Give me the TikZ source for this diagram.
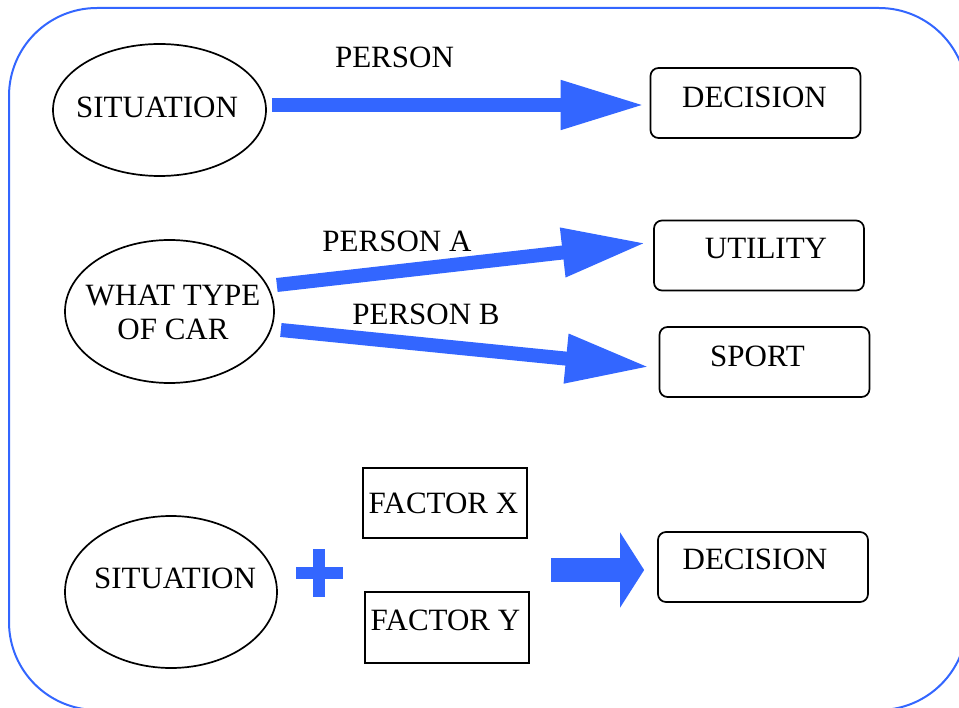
\documentclass[tikz,border=0pt]{standalone}
\usepackage{fontspec}
\setmainfont{Liberation Serif}
\usetikzlibrary{shapes.geometric,arrows.meta}
\definecolor{arrowblue}{RGB}{51,102,255}
\tikzset{
  txt/.style={font=\fontsize{31}{34}\selectfont, inner sep=0pt, text height=20.5pt, text depth=0pt},
  oval/.style={draw, ellipse, line width=1.7pt, inner sep=0pt},
  rbox/.style={draw, rounded corners=8pt, line width=1.7pt, inner sep=0pt,
               minimum width=210pt, minimum height=70pt},
  sbox/.style={draw, line width=1.7pt, inner sep=0pt, minimum width=164pt, minimum height=70pt},
  fat/.style={draw=arrowblue, line width=14pt, -{Triangle[length=84pt,width=46pt]}},
  block/.style={draw=arrowblue, line width=24pt, -{Triangle[length=24pt,width=74pt]}},
}
\begin{document}
\begin{tikzpicture}[x=1pt,y=-1pt]
\useasboundingbox (0,0) rectangle (959,708);
\clip (0,0) rectangle (959,708);

% frame
\draw[arrowblue, line width=2pt, rounded corners=88pt] (9,8) rectangle (967,710);

% first row
\node[oval, minimum width=213pt, minimum height=132pt,
      label={[txt, xshift=-2.5pt, yshift=3pt]center:SITUATION}] (sit1) at (159.5,110) {};
\node[rbox, label={[txt, xshift=-1pt, yshift=5.5pt]center:DECISION}] (dec1) at (755.5,103) {};
\node[txt] (pers) at (394.5,57) {PERSON};
\draw[fat] ([shift={(5,-5)}]sit1.east) -- ([shift={(-5,2)}]dec1.west);

% second row
\node[oval, minimum width=209pt, minimum height=143pt,
      label={[txt, align=center, xshift=3.5pt, yshift=-17.5pt]center:WHAT TYPE\\OF CAR}] (car) at (169.5,311.5) {};
\node[rbox, label={[txt, xshift=7pt, yshift=7pt]center:UTILITY}] (util) at (759,255.5) {};
\node[rbox, label={[txt, xshift=-7pt, yshift=6pt]center:SPORT}] (sport) at (764.5,362) {};
\node[txt] (persA) at (397,241.5) {PERSON A};
\node[txt] (persB) at (426,314.5) {PERSON B};
\draw[fat] ([shift={(2,-26.5)}]car.east) -- ([shift={(-7,-12.5)}]util.west);
\draw[fat] ([shift={(6,18.5)}]car.east) -- ([shift={(-9,5)}]sport.west);

% third row
\node[oval, minimum width=212pt, minimum height=152pt,
      label={[txt, xshift=4pt, yshift=14pt]center:SITUATION}] (sit3) at (171,592) {};
\node[sbox, label={[txt, xshift=-1.5pt]center:FACTOR X}] (fx) at (445,503) {};
\node[sbox, minimum height=71pt, label={[txt, xshift=-1.5pt, yshift=7pt]center:FACTOR Y}] (fy) at (447,627.5) {};
\node[rbox, label={[txt, xshift=-8pt, yshift=7.5pt]center:DECISION}] (dec3) at (763,567) {};

% plus sign
\coordinate (plus) at (319,573);
\fill[arrowblue] ([shift={(-23.5,-6)}]plus) rectangle ([shift={(23.5,6)}]plus);
\fill[arrowblue] ([shift={(-6,-24)}]plus) rectangle ([shift={(5.5,23.5)}]plus);

% result arrow
\draw[block] ([shift={(-106,3)}]dec3.west) -- ([shift={(-13,3)}]dec3.west);
\end{tikzpicture}
\end{document}
